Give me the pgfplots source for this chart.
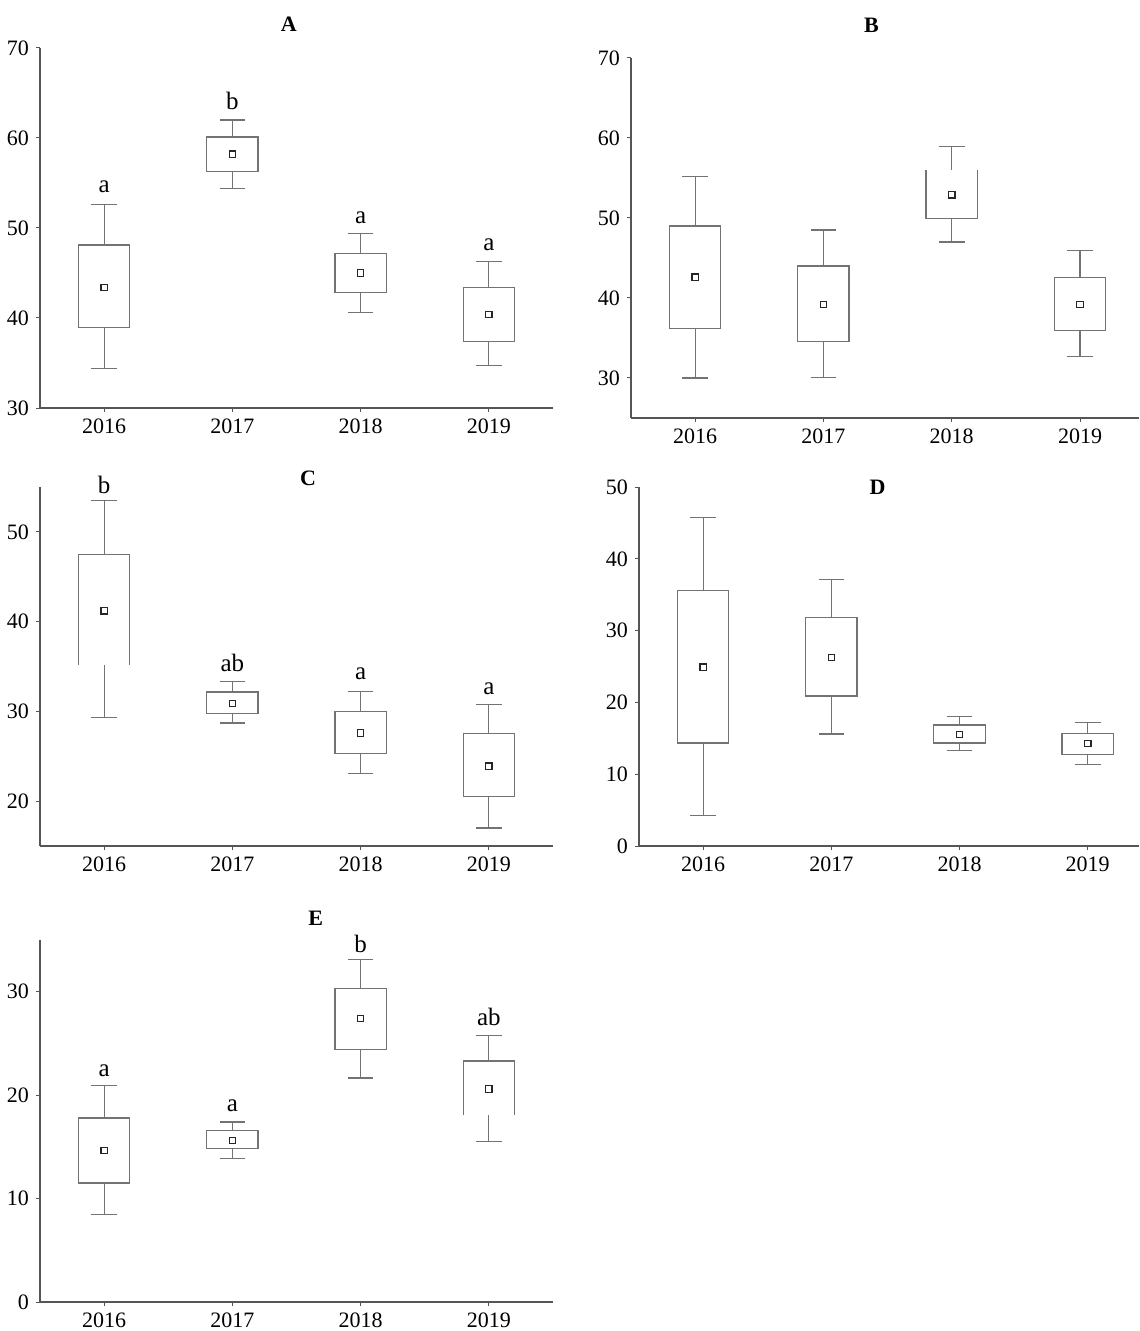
\documentclass[border=0pt]{standalone}
\usepackage{fontspec}
\setmainfont{Liberation Serif}
\usepackage{pgfplots}
\pgfplotsset{compat=1.18}
\usepgfplotslibrary{statistics}

\definecolor{boxc}{RGB}{115,115,115}
\definecolor{axc}{RGB}{85,85,85}

\tikzset{
  lbl/.style={anchor=base, font=\fontsize{12.5}{14}\selectfont, inner sep=0pt},
  ttl/.style={anchor=center, font=\fontsize{11}{13}\selectfont\bfseries, inner sep=0pt},
}

\pgfplotsset{
  panel/.style={
    scale only axis,
    anchor=south west,
    axis x line*=bottom,
    axis y line*=left,
    axis line style={axc, line width=0.7pt},
    xtick={0,1,2,3},
    xticklabels={2016,2017,2018,2019},
    tick style={axc, line width=0.5pt},
    tick align=outside,
    major tick length=2pt,
    ticklabel style={font=\fontsize{11}{13}\selectfont},
    /pgf/number format/assume math mode=true,
    clip=false,
    xmin=-0.5,
    boxplot/draw direction=y,
    boxplot/box extend=0.4,
    boxplot/whisker extend=0.2,
    boxplot/draw/median/.code={},
  },
  bx/.style={draw=boxc, line width=0.6pt, solid},
  mn/.style={only marks, mark=square*, mark size=1.6pt, mark options={fill=white, draw=black!85, line width=0.6pt}},
  opentop/.style={boxplot/draw/box/.code={\draw[/pgfplots/boxplot/every box/.try]
     (boxplot box cs:\pgfplotsboxplotvalue{upper quartile},0) -- (boxplot box cs:\pgfplotsboxplotvalue{lower quartile},0) --
     (boxplot box cs:\pgfplotsboxplotvalue{lower quartile},1) -- (boxplot box cs:\pgfplotsboxplotvalue{upper quartile},1);}},
  openbottom/.style={boxplot/draw/box/.code={\draw[/pgfplots/boxplot/every box/.try]
     (boxplot box cs:\pgfplotsboxplotvalue{lower quartile},0) -- (boxplot box cs:\pgfplotsboxplotvalue{upper quartile},0) --
     (boxplot box cs:\pgfplotsboxplotvalue{upper quartile},1) -- (boxplot box cs:\pgfplotsboxplotvalue{lower quartile},1);}},
}

\begin{document}
\begin{tikzpicture}
\useasboundingbox (0,0) rectangle (569.5pt,-665.5pt);

% ---------------- A ----------------
\begin{axis}[panel, at={(20pt,-204pt)}, width=256.5pt, height=180pt,
  xmax=3.5, ymin=30, ymax=70, ytick={30,40,50,60,70}]
\addplot[bx, boxplot prepared={draw position=0, lower whisker=34.4, lower quartile=38.9, median=43.4, upper quartile=48.1, upper whisker=52.6}] coordinates {};
\addplot[bx, boxplot prepared={draw position=1, lower whisker=54.4, lower quartile=56.3, median=58.2, upper quartile=60.1, upper whisker=62.0}] coordinates {};
\addplot[bx, boxplot prepared={draw position=2, lower whisker=40.6, lower quartile=42.8, median=45.0, upper quartile=47.2, upper whisker=49.4}] coordinates {};
\addplot[bx, boxplot prepared={draw position=3, lower whisker=34.7, lower quartile=37.4, median=40.4, upper quartile=43.4, upper whisker=46.3}] coordinates {};
\addplot[mn] coordinates {(0,43.4) (1,58.2) (2,45.0) (3,40.4)};
\node[lbl] at (axis cs:0,53.9) {a};
\node[lbl] at (axis cs:1,63.15) {b};
\node[lbl] at (axis cs:2,50.55) {a};
\node[lbl] at (axis cs:3,47.5) {a};
\node[ttl] at (axis cs:1.44,72.6) {A};
\end{axis}

% ---------------- B ----------------
\begin{axis}[panel, at={(315.5pt,-209pt)}, width=254pt, height=180pt,
  xmax=3.46, ymin=25, ymax=70, ytick={30,40,50,60,70}]
\addplot[bx, boxplot prepared={draw position=0, lower whisker=30.0, lower quartile=36.2, median=42.6, upper quartile=49.0, upper whisker=55.2}] coordinates {};
\addplot[bx, boxplot prepared={draw position=1, lower whisker=30.1, lower quartile=34.6, median=39.2, upper quartile=44.0, upper whisker=48.5}] coordinates {};
\addplot[bx, opentop, boxplot prepared={draw position=2, lower whisker=47.0, lower quartile=49.9, median=52.9, upper quartile=56.0, upper whisker=58.95}] coordinates {};
\addplot[bx, boxplot prepared={draw position=3, lower whisker=32.7, lower quartile=35.9, median=39.2, upper quartile=42.6, upper whisker=45.9}] coordinates {};
\addplot[mn] coordinates {(0,42.6) (1,39.2) (2,52.9) (3,39.2)};
\node[ttl] at (axis cs:1.375,74.1) {B};
\end{axis}

% ---------------- C ----------------
\begin{axis}[panel, at={(20pt,-423pt)}, width=256.5pt, height=179.5pt,
  xmax=3.5, ymin=15, ymax=55, ytick={20,30,40,50}]
\addplot[bx, openbottom, boxplot prepared={draw position=0, lower whisker=29.3, lower quartile=35.2, median=41.2, upper quartile=47.5, upper whisker=53.5}] coordinates {};
\addplot[bx, boxplot prepared={draw position=1, lower whisker=28.7, lower quartile=29.8, median=30.9, upper quartile=32.15, upper whisker=33.3}] coordinates {};
\addplot[bx, boxplot prepared={draw position=2, lower whisker=23.1, lower quartile=25.3, median=27.6, upper quartile=30.0, upper whisker=32.2}] coordinates {};
\addplot[bx, boxplot prepared={draw position=3, lower whisker=17.0, lower quartile=20.5, median=23.9, upper quartile=27.5, upper whisker=30.8}] coordinates {};
\addplot[mn] coordinates {(0,41.2) (1,30.9) (2,27.6) (3,23.9)};
\node[lbl] at (axis cs:0,54.3) {b};
\node[lbl] at (axis cs:1,34.4) {ab};
\node[lbl] at (axis cs:2,33.5) {a};
\node[lbl] at (axis cs:3,31.9) {a};
\node[ttl] at (axis cs:1.59,56) {C};
\end{axis}

% ---------------- D ----------------
\begin{axis}[panel, at={(319.5pt,-423pt)}, width=250pt, height=179.5pt,
  xmax=3.4, ymin=0, ymax=50, ytick={0,10,20,30,40,50}]
\addplot[bx, boxplot prepared={draw position=0, lower whisker=4.3, lower quartile=14.35, median=24.9, upper quartile=35.55, upper whisker=45.7}] coordinates {};
\addplot[bx, boxplot prepared={draw position=1, lower whisker=15.6, lower quartile=20.9, median=26.25, upper quartile=31.85, upper whisker=37.1}] coordinates {};
\addplot[bx, boxplot prepared={draw position=2, lower whisker=13.3, lower quartile=14.35, median=15.55, upper quartile=16.85, upper whisker=18.0}] coordinates {};
\addplot[bx, boxplot prepared={draw position=3, lower whisker=11.4, lower quartile=12.8, median=14.25, upper quartile=15.7, upper whisker=17.2}] coordinates {};
\addplot[mn] coordinates {(0,24.9) (1,26.25) (2,15.55) (3,14.25)};
\node[ttl] at (axis cs:1.36,50) {D};
\end{axis}

% ---------------- E ----------------
\begin{axis}[panel, at={(20pt,-651pt)}, width=256.5pt, height=181pt,
  xmax=3.5, ymin=0, ymax=35, ytick={0,10,20,30}]
\addplot[bx, boxplot prepared={draw position=0, lower whisker=8.45, lower quartile=11.5, median=14.65, upper quartile=17.8, upper whisker=20.9}] coordinates {};
\addplot[bx, boxplot prepared={draw position=1, lower whisker=13.9, lower quartile=14.85, median=15.6, upper quartile=16.6, upper whisker=17.4}] coordinates {};
\addplot[bx, boxplot prepared={draw position=2, lower whisker=21.65, lower quartile=24.45, median=27.4, upper quartile=30.3, upper whisker=33.1}] coordinates {};
\addplot[bx, openbottom, boxplot prepared={draw position=3, lower whisker=15.55, lower quartile=18.1, median=20.6, upper quartile=23.3, upper whisker=25.8}] coordinates {};
\addplot[mn] coordinates {(0,14.65) (1,15.6) (2,27.4) (3,20.6)};
\node[lbl] at (axis cs:0,21.8) {a};
\node[lbl] at (axis cs:1,18.4) {a};
\node[lbl] at (axis cs:2,33.8) {b};
\node[lbl] at (axis cs:3,26.7) {ab};
\node[ttl] at (axis cs:1.65,37.1) {E};
\end{axis}
\end{tikzpicture}
\end{document}
